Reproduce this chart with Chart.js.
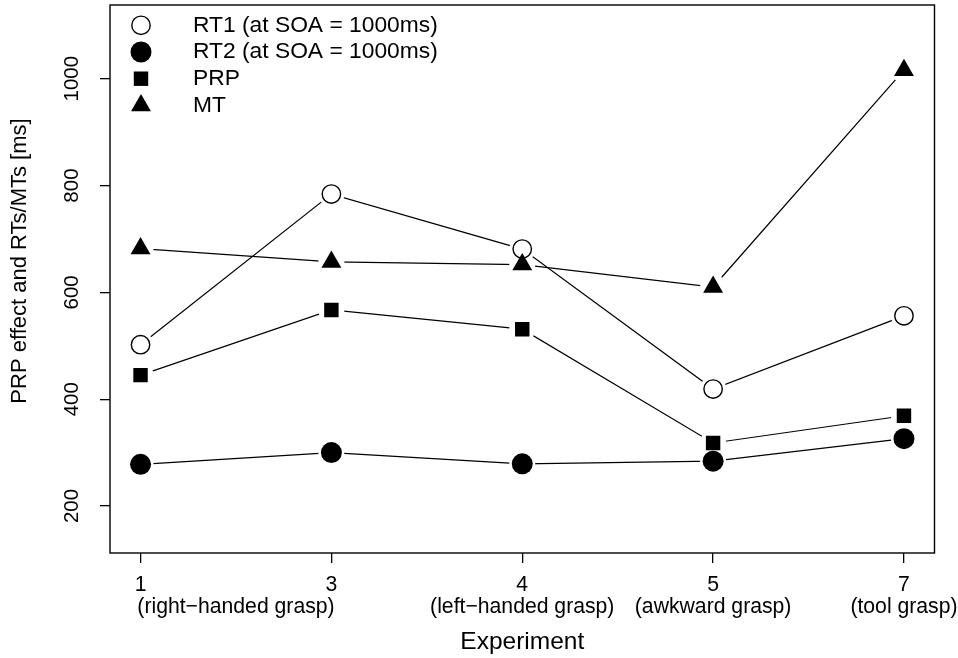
<!DOCTYPE html>
<html>
<head>
<meta charset="utf-8">
<script src="https://cdn.jsdelivr.net/npm/chart.js@4"></script>
<style>
  html, body { margin: 0; padding: 0; background: #fff; }
  #wrap { width: 958px; height: 658px; }
</style>
</head>
<body>
<div id="wrap"><canvas id="chart"></canvas></div>
<script>
// experiments on the x axis, with the grasp condition of each one
const experimentNo = ["1", "3", "4", "5", "7"];
const graspType = ["right−handed grasp", "right−handed grasp", "left−handed grasp", "awkward grasp", "tool grasp"];

// mean times in ms per experiment
const rt1 = [502, 784, 681, 419, 556];
const rt2 = [278, 300, 279, 284, 326];
const prp = [445, 567, 531, 318, 369];
const mt = [682, 657, 652, 610, 1016];

const yTickValues = [200, 400, 600, 800, 1000];
const yTitle = "PRP effect and RTs/MTs [ms]";

const FONT = "'Liberation Sans', Arial, Helvetica, sans-serif";

// consecutive experiments with the same grasp share one label, centred under them
const graspGroups = [];
graspType.forEach((g, i) => {
  const last = graspGroups[graspGroups.length - 1];
  if (last && last.label === g) last.to = i;
  else graspGroups.push({ label: g, from: i, to: i });
});

const series = [
  { label: "RT1 (at SOA = 1000ms)", values: rt1, style: "circle", radius: 9.2, fill: "#fff", border: 1.4 },
  { label: "RT2 (at SOA = 1000ms)", values: rt2, style: "circle", radius: 10.5, fill: "#000", border: 0 },
  { label: "PRP", values: prp, style: "rect", radius: 10.2, fill: "#000", border: 0 },
  { label: "MT", values: mt, style: "triangle", radius: 11.5, fill: "#000", border: 0 },
];

const datasets = [];
series.forEach((s, k) => {
  const pts = s.values.map((y, i) => ({ x: i, y }));
  // line with a white disc at each point, so the line stops short of the symbol
  datasets.push({
    data: pts,
    showLine: true,
    borderColor: "#000",
    borderWidth: 1.2,
    pointStyle: "circle",
    pointRadius: 13,
    pointBackgroundColor: "#fff",
    pointBorderWidth: 0,
    order: 1,
  });
  // the symbols themselves, later series on top
  datasets.push({
    data: pts,
    showLine: false,
    pointStyle: s.style,
    pointRadius: s.radius,
    pointBackgroundColor: s.fill,
    pointBorderColor: "#000",
    pointBorderWidth: s.border,
    order: -k,
  });
});

const frameAndLegend = {
  id: "frameAndLegend",
  afterDraw(chart) {
    const { ctx, chartArea: ca } = chart;
    ctx.save();
    ctx.strokeStyle = "#000";
    ctx.lineWidth = 1.4;
    ctx.strokeRect(ca.left, ca.top, ca.right - ca.left, ca.bottom - ca.top);

    // y axis title, a little above the middle of the plot
    ctx.save();
    ctx.translate(20, (ca.top + ca.bottom) / 2 - 18);
    ctx.rotate(-Math.PI / 2);
    ctx.fillStyle = "#000";
    ctx.font = "22px " + FONT;
    ctx.textAlign = "center";
    ctx.textBaseline = "middle";
    ctx.fillText(yTitle, 0, 0);
    ctx.restore();

    // legend in the top-left corner of the plot
    const mx = ca.left + 31;
    const tx = ca.left + 83;
    series.forEach((s, i) => {
      const y = ca.top + 20.3 + i * 26.7;
      ctx.fillStyle = s.fill;
      ctx.strokeStyle = "#000";
      ctx.lineWidth = s.border;
      Chart.helpers.drawPoint(ctx, { pointStyle: s.style, radius: s.radius, rotation: 0, borderWidth: s.border }, mx, y);
      ctx.fillStyle = "#000";
      ctx.font = "22.8px " + FONT;
      ctx.textAlign = "left";
      ctx.textBaseline = "middle";
      ctx.fillText(s.label, tx, y);
    });
    ctx.restore();
  },
};

const noEdgePadding = (scale) => {
  scale.paddingTop = 0;
  scale.paddingBottom = 0;
  scale.paddingLeft = 0;
  scale.paddingRight = 0;
};

new Chart(document.getElementById("chart"), {
  type: "line",
  data: { datasets },
  plugins: [frameAndLegend],
  options: {
    responsive: true,
    maintainAspectRatio: false,
    animation: false,
    events: [],
    layout: { autoPadding: false, padding: { top: 5, right: 23.5, bottom: 0, left: 0 } },
    plugins: { legend: { display: false }, tooltip: { enabled: false } },
    scales: {
      x: {
        type: "linear",
        min: -0.16,
        max: 4.16,
        afterBuildTicks: (scale) => {
          scale.ticks = experimentNo.map((_, i) => ({ value: i }));
        },
        afterFit: (scale) => { scale.height = 40; noEdgePadding(scale); },
        border: { display: false },
        grid: { drawOnChartArea: false, drawTicks: true, tickLength: 10, color: "#000", lineWidth: 1.3 },
        ticks: {
          autoSkip: false,
          maxRotation: 0,
          padding: 9.3,
          color: "#000",
          font: { family: FONT, size: 21.2 },
          callback: (v) => experimentNo[v],
        },
      },
      grasp: {
        type: "linear",
        position: "bottom",
        min: -0.16,
        max: 4.16,
        afterBuildTicks: (scale) => {
          scale.ticks = graspGroups.map((g) => ({ value: (g.from + g.to) / 2 }));
        },
        afterFit: (scale) => { scale.height = 65; noEdgePadding(scale); },
        border: { display: false },
        grid: { display: false, drawTicks: false },
        ticks: {
          autoSkip: false,
          maxRotation: 0,
          padding: 1.3,
          color: "#000",
          font: { family: FONT, size: 21.2 },
          callback: (v, i) => "(" + graspGroups[i].label + ")",
        },
        title: {
          display: true,
          text: "Experiment",
          color: "#000",
          font: { family: FONT, size: 24.5 },
          padding: { top: 0, bottom: 1.3 },
        },
      },
      y: {
        type: "linear",
        min: 112,
        max: 1138,
        afterBuildTicks: (scale) => {
          scale.ticks = yTickValues.map((v) => ({ value: v }));
        },
        afterFit: (scale) => { scale.width = 110; noEdgePadding(scale); },
        border: { display: false },
        grid: { drawOnChartArea: false, drawTicks: true, tickLength: 10, color: "#000", lineWidth: 1.3 },
        ticks: {
          minRotation: 90,
          maxRotation: 90,
          crossAlign: "center",
          padding: 4.5,
          color: "#000",
          font: { family: FONT, size: 20.5 },
          callback: (v) => String(v),
        },
      },
    },
  },
});
</script>
</body>
</html>
